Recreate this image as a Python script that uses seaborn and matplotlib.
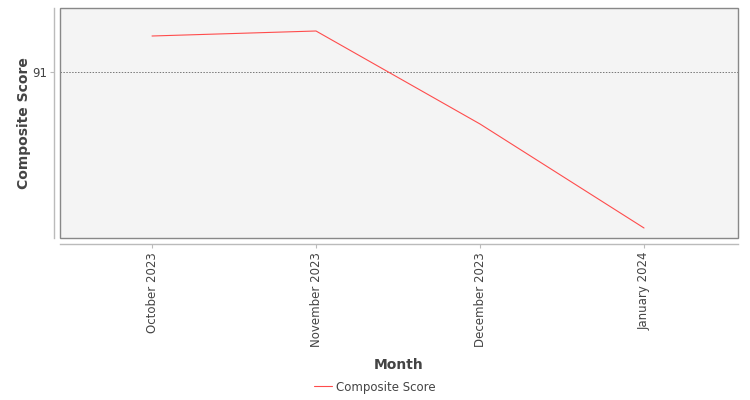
import matplotlib
matplotlib.use("Agg")
import matplotlib.pyplot as plt
import seaborn as sns
import pandas as pd
from matplotlib.patches import Rectangle

months = ["October 2023", "November 2023", "December 2023", "January 2024"]
scores = [91.18, 91.205, 90.74, 90.22]
series_name = "Composite Score"

df = pd.DataFrame({"Month": months, series_name: scores, "Series": series_name})

sns.set_theme(style="white")
plt.rcParams["font.family"] = ["DejaVu Sans"]

fig = plt.figure(figsize=(7.5, 4), dpi=100)
ax = fig.add_axes([60/750, 1 - 238/400, 678/750, 230/400])
ax.set_facecolor("#f4f4f4")

sns.lineplot(data=df, x="Month", y=series_name, hue="Series", palette=["#ff4c4c"],
             linewidth=0.8, ax=ax, sort=False)

ax.set_xlim(-0.561, 3.573)
ax.set_ylim(90.17, 91.32)
ax.set_yticks([91])
ax.set_yticklabels(["91"])
ax.yaxis.grid(True, linestyle=(0, (1.5, 1.5)), color="#777777", linewidth=0.7)
ax.xaxis.grid(False)

for s in ["top", "right"]:
    ax.spines[s].set_visible(False)
for s in ["left", "bottom"]:
    ax.spines[s].set_position(("outward", 4))
    ax.spines[s].set_color("#bbbbbb")
    ax.spines[s].set_linewidth(1.0)
ax.add_patch(Rectangle((0, 0), 1, 1, transform=ax.transAxes, fill=False,
                       edgecolor="#888888", linewidth=1.0, clip_on=False, zorder=5))

ax.tick_params(axis="x", rotation=90, labelsize=8.5, colors="#bbbbbb", labelcolor="#444444",
               length=3, width=0.8, bottom=True, pad=3)
ax.tick_params(axis="y", labelsize=8.5, colors="#bbbbbb", labelcolor="#444444",
               length=3, width=0.8, left=True, pad=2)

ax.set_xlabel("Month", fontsize=10, fontweight="bold", color="#444444", labelpad=8)
ax.set_ylabel("Composite Score", fontsize=10, fontweight="bold", color="#444444", labelpad=1)

ax.legend_.remove()
handles, labels = ax.get_legend_handles_labels()
fig.legend(handles, labels, loc="center", bbox_to_anchor=(375/750, 1 - 387/400),
           frameon=False, fontsize=8.5, handlelength=1.5, handletextpad=0.4,
           labelcolor="#444444")

fig.savefig("out.png", dpi=100)
